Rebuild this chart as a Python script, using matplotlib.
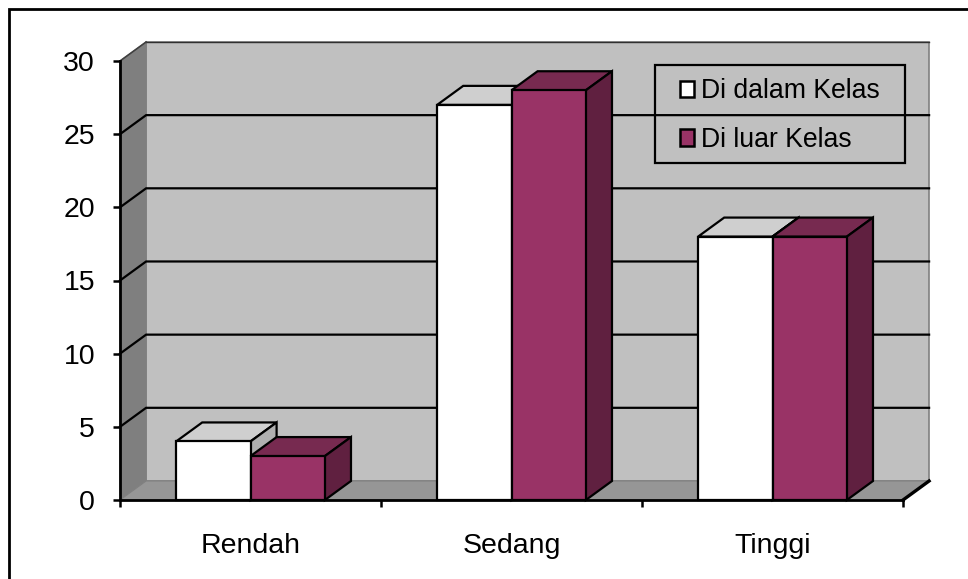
import matplotlib
matplotlib.use("Agg")
import matplotlib.pyplot as plt
from matplotlib.patches import Polygon, Patch, Rectangle
from matplotlib.lines import Line2D

categories = ["Rendah", "Sedang", "Tinggi"]
series_names = ["Di dalam Kelas", "Di luar Kelas"]
dalam = [4, 27, 18]
luar = [3, 28, 18]
y_ticks = [0, 5, 10, 15, 20, 25, 30]

W, H = 968, 579
plt.rcParams["font.family"] = ["Liberation Sans", "DejaVu Sans"]
fig = plt.figure(figsize=(W / 100, H / 100), dpi=100)
ax = fig.add_axes([120 / W, 1 - 500 / H, 783 / W, 439 / H])
ax.set_xlim(0, 3)
ax.set_ylim(0, 30)
ax.patch.set_alpha(0)

DX, DY = 0.1, 1.3      # oblique depth in data units
BAR_W = 0.285
YMAX = 30
XMAX = 3
LW = 1.6


def poly(pts, fc, ec="none", lw=0, z=1):
    ax.add_patch(Polygon(pts, closed=True, facecolor=fc, edgecolor=ec,
                         linewidth=lw, zorder=z, clip_on=False, joinstyle="miter"))


# walls
poly([(DX, DY), (XMAX + DX, DY), (XMAX + DX, YMAX + DY), (DX, YMAX + DY)], "#c0c0c0", "#808080", 1.2, 1)
poly([(0, 0), (DX, DY), (DX, YMAX + DY), (0, YMAX)], "#7f7f7f", "#808080", 0.8, 1.2)
poly([(0, 0), (XMAX, 0), (XMAX + DX, DY), (DX, DY)], "#969696", "#808080", 0.8, 1.2)
ax.plot([DX, XMAX + DX], [YMAX + DY] * 2, color="#303030", lw=1.0, zorder=1.3, clip_on=False)
ax.plot([0, DX], [YMAX, YMAX + DY], color="#404040", lw=1.2, zorder=1.3, clip_on=False)

# gridlines along side and back wall
for v in y_ticks[1:-1]:
    ax.plot([0, DX, XMAX + DX], [v, v + DY, v + DY], color="black", lw=LW,
            zorder=1.5, clip_on=False, solid_joinstyle="miter")
ax.plot([XMAX, XMAX + DX], [0, DY], color="black", lw=2.4, zorder=1.5, clip_on=False)


def bar3d(x0, h, front, top, side, z):
    x1 = x0 + BAR_W
    poly([(x0, h), (x1, h), (x1 + DX, h + DY), (x0 + DX, h + DY)], top, "black", LW, z)
    poly([(x1, 0), (x1 + DX, DY), (x1 + DX, h + DY), (x1, h)], side, "black", LW, z)
    poly([(x0, 0), (x1, 0), (x1, h), (x0, h)], front, "black", LW, z)


for i in range(len(categories)):
    c = i + 0.5
    bar3d(c - BAR_W, dalam[i], "#ffffff", "#cfcfcf", "#b0b0b0", 2 + i)
    bar3d(c, luar[i], "#993366", "#772a50", "#602040", 2.5 + i)

# axes
for s in ("top", "right"):
    ax.spines[s].set_visible(False)
for s in ("left", "bottom"):
    ax.spines[s].set_linewidth(2.0)
    ax.spines[s].set_color("black")
    ax.spines[s].set_zorder(10)
ax.set_yticks(y_ticks)
ax.tick_params(axis="y", length=5, width=1.8, pad=13, labelsize=20.5)
ax.set_xticks(range(len(categories) + 1))
ax.set_xticklabels([])
ax.tick_params(axis="x", which="major", length=5, width=1.8)
ax.set_xticks([i + 0.5 for i in range(len(categories))], minor=True)
ax.set_xticklabels(categories, minor=True, fontsize=20.5)
ax.tick_params(axis="x", which="minor", length=0, pad=24)

# legend: frameless entries inside a separate transparent box
ax.add_patch(Rectangle((655 / W, 1 - 163 / H), 250 / W, 98 / H, transform=fig.transFigure,
                       facecolor="none", edgecolor="black", linewidth=1.6, zorder=20, clip_on=False))
handles = [Patch(facecolor="#ffffff", edgecolor="black", linewidth=1.8),
           Patch(facecolor="#993366", edgecolor="black", linewidth=1.8)]
leg = ax.legend(handles, series_names, loc="upper left",
                bbox_to_anchor=(680 / W, 1 - 78 / H), bbox_transform=fig.transFigure,
                fontsize=19.2, frameon=False, handlelength=0.52, handleheight=0.55,
                handletextpad=0.26, labelspacing=0.86, borderpad=0, borderaxespad=0)
leg.set_zorder(21)

# outer chart frame
fig.add_artist(Line2D([8.5 / W, 8.5 / W, 1], [0, 1 - 8.5 / H, 1 - 8.5 / H], color="black", lw=2.0,
                      solid_joinstyle="miter"))

fig.savefig("out.png", dpi=100)
